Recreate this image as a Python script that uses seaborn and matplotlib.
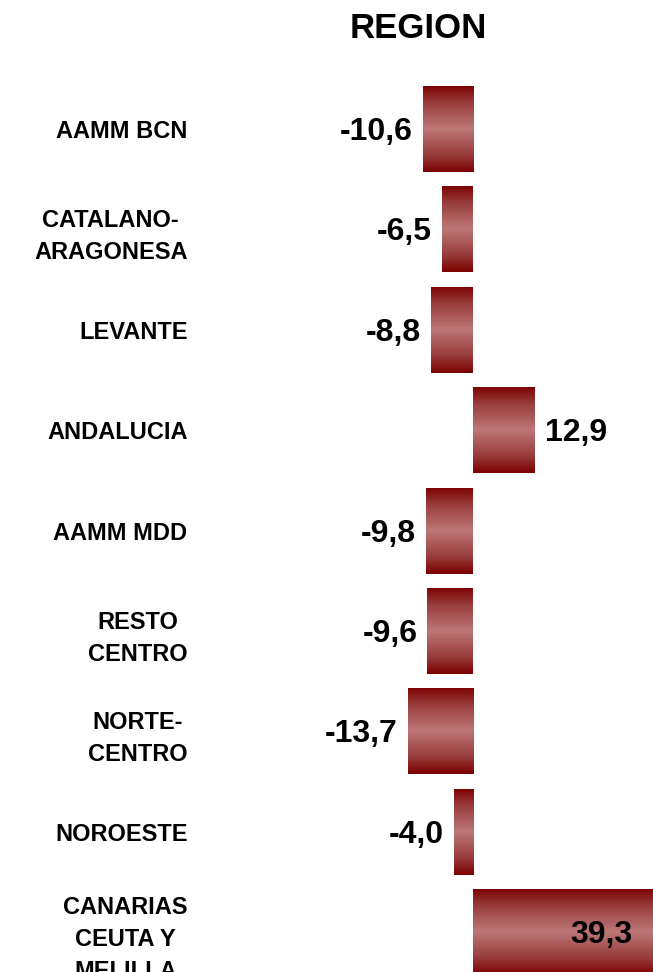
import numpy as np
import pandas as pd
import matplotlib
matplotlib.use("Agg")
import matplotlib.pyplot as plt
import seaborn as sns
from matplotlib.colors import LinearSegmentedColormap

# datos
regiones = ["AAMM BCN", "CATALANO-\nARAGONESA", "LEVANTE", "ANDALUCIA", "AAMM MDD",
            "RESTO\nCENTRO", "NORTE-\nCENTRO", "NOROESTE", "CANARIAS\nCEUTA Y\nMELILLA"]
variacion = [-10.6, -6.5, -8.8, 12.9, -9.8, -9.6, -13.7, -4.0, 39.3]
titulo = "REGION"

df = pd.DataFrame({"region": regiones, "var": variacion})

sns.set_theme(style="white")
plt.rcParams["font.family"] = ["Liberation Sans", "DejaVu Sans"]
plt.rcParams["font.weight"] = "bold"

fig = plt.figure(figsize=(6.53, 9.72), dpi=100)
ax = fig.add_axes([200 / 653, 0, 453 / 653, 892 / 972])

sns.barplot(data=df, x="var", y="region", orient="h", width=0.857,
            color="#9b3a3a", ax=ax)

# degradado vertical en cada barra
cmap = LinearSegmentedColormap.from_list(
    "grad", [(0, "#7c0000"), (0.2, "#983c3c"), (0.5, "#bd7777"), (0.8, "#983c3c"), (1, "#7c0000")])
grad = np.linspace(0, 1, 256).reshape(-1, 1)
for p in ax.patches:
    x0, y0 = p.get_x(), p.get_y()
    w, h = p.get_width(), p.get_height()
    im = ax.imshow(grad, cmap=cmap, aspect="auto", interpolation="bilinear",
                   extent=(x0, x0 + w, y0 + h, y0), zorder=2)
    im.set_clip_path(p)
    p.set_facecolor("none")
    p.set_edgecolor("none")

xmin, xmax = -57.35, 37.82
ax.set_xlim(xmin, xmax)
ax.set_ylim(8.396, -0.488)

# etiquetas de valores
for i, v in enumerate(variacion):
    txt = f"{v:.1f}".replace(".", ",")
    if v < 0:
        x, ha = v - 2.1, "right"
    elif v > xmax:
        x, ha = xmax - 4.4, "right"
    else:
        x, ha = v + 2.3, "left"
    ax.text(x, i + 0.03, txt, ha=ha, va="center", fontsize=23, fontweight="bold", color="black")

ax.set_xlabel("")
ax.set_ylabel("")
ax.set_xticks([])
ax.tick_params(axis="y", length=0, pad=9)
for lab in ax.get_yticklabels():
    lab.set_fontsize(17)
    lab.set_fontweight("bold")
    lab.set_multialignment("center")
    lab.set_linespacing(1.5)
    lab.set_color("black")
for s in ax.spines.values():
    s.set_visible(False)

fig.text(418 / 653, 1 - 28 / 972, titulo, ha="center", va="center",
         fontsize=25, fontweight="bold", color="black")

fig.savefig("out.png", dpi=100)
